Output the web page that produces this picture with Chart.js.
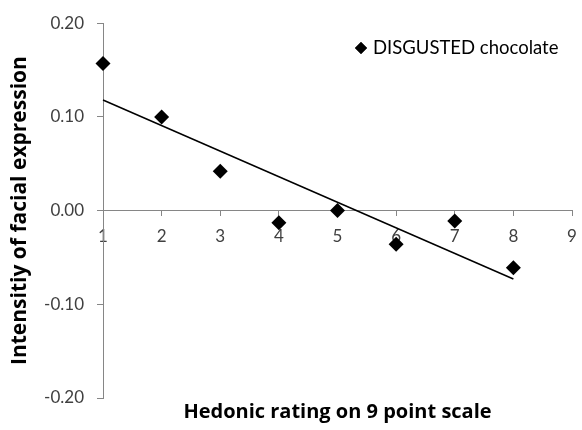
<!DOCTYPE html>
<html><head><meta charset="utf-8">
<script src="https://cdn.jsdelivr.net/npm/chart.js@4/dist/chart.umd.min.js"></script>
<style>html,body{margin:0;padding:0;background:#fff}#wrap{width:582px;height:430px}</style>
</head><body><div id="wrap"><canvas id="c" width="582" height="430"></canvas></div>
<script>
// ---- data ----
const hedonicRatings = [1, 2, 3, 4, 5, 6, 7, 8];
const intensityValues = [0.157, 0.100, 0.042, -0.013, 0.000, -0.036, -0.011, -0.061];
const trendX = [1, 8];
const trendY = [0.118, -0.073];
const xTickValues = [1, 2, 3, 4, 5, 6, 7, 8, 9];
const yTickValues = [-0.20, -0.10, 0.00, 0.10, 0.20];
const seriesName = 'DISGUSTED chocolate';
const xTitle = 'Hedonic rating on 9 point scale';
const yTitle = 'Intensitiy of facial expression';

const AXIS = '#868686';
const TICK = '#404040';

const xTitlePlugin = {
  id: 'xTitlePlugin',
  afterDraw(chart) {
    const { ctx, chartArea } = chart;
    ctx.save();
    ctx.font = 'bold 20px "Open Sans"';
    ctx.fillStyle = '#000';
    ctx.textAlign = 'center';
    ctx.textBaseline = 'middle';
    ctx.fillText(xTitle, (chartArea.left + chartArea.right) / 2, 412);
    ctx.restore();
  }
};

const legendPlugin = {
  id: 'legendPlugin',
  afterDraw(chart) {
    const { ctx } = chart;
    const ds = chart.data.datasets[0];
    ctx.save();
    Chart.helpers.drawPoint(ctx, { pointStyle: 'rectRot', radius: 6, borderWidth: 0 }, 361, 48);
    ctx.fillStyle = '#000';
    ctx.fill();
    ctx.font = '18.5px Lato';
    ctx.textAlign = 'left';
    ctx.textBaseline = 'middle';
    ctx.fillText(ds.label, 373, 48);
    ctx.restore();
  }
};

new Chart(document.getElementById('c'), {
  type: 'scatter',
  data: {
    datasets: [
      {
        label: seriesName,
        data: hedonicRatings.map((x, i) => ({ x, y: intensityValues[i] })),
        pointStyle: 'rectRot',
        pointRadius: 7.5,
        pointHoverRadius: 7.5,
        backgroundColor: '#000',
        borderColor: '#000',
        borderWidth: 0,
        clip: false,
        order: 1
      },
      {
        label: 'trend',
        type: 'line',
        data: trendX.map((x, i) => ({ x, y: trendY[i] })),
        borderColor: '#000',
        borderWidth: 1.5,
        pointRadius: 0,
        fill: false,
        showLine: true,
        clip: false,
        order: 0
      }
    ]
  },
  options: {
    responsive: false,
    animation: false,
    devicePixelRatio: 1,
    layout: { padding: { left: 0, right: 10, top: 23, bottom: 32 } },
    plugins: {
      tooltip: { enabled: false },
      title: { display: false },
      legend: { display: false }
    },
    scales: {
      x: {
        type: 'linear',
        min: 1,
        max: 9,
        position: { y: 0 },
        afterBuildTicks: (s) => { s.ticks = xTickValues.map(v => ({ value: v })); },
        afterFit: (s) => { s.paddingRight = 0; s.paddingLeft = 0; },
        grid: { drawOnChartArea: false, drawTicks: true, tickLength: 5, color: AXIS },
        border: { color: AXIS, width: 1 },
        ticks: { color: TICK, font: { family: 'Lato', size: 17 }, padding: 11, maxRotation: 0 }
      },
      y: {
        type: 'linear',
        min: -0.2,
        max: 0.2,
        position: 'left',
        afterBuildTicks: (s) => { s.ticks = yTickValues.map(v => ({ value: v })); },
        afterFit: (s) => { s.width = 103; },
        grid: { drawOnChartArea: false, drawTicks: true, tickLength: 6, color: AXIS },
        border: { color: AXIS, width: 1 },
        ticks: { color: TICK, font: { family: 'Lato', size: 17 }, padding: 13,
                 callback: (v) => Number(v).toFixed(2) },
        title: { display: true, text: yTitle, color: '#000',
                 font: { family: 'Open Sans', size: 21, weight: 'bold' }, padding: { top: 7, bottom: 0 } }
      }
    }
  },
  plugins: [xTitlePlugin, legendPlugin]
});
</script>
</body></html>
